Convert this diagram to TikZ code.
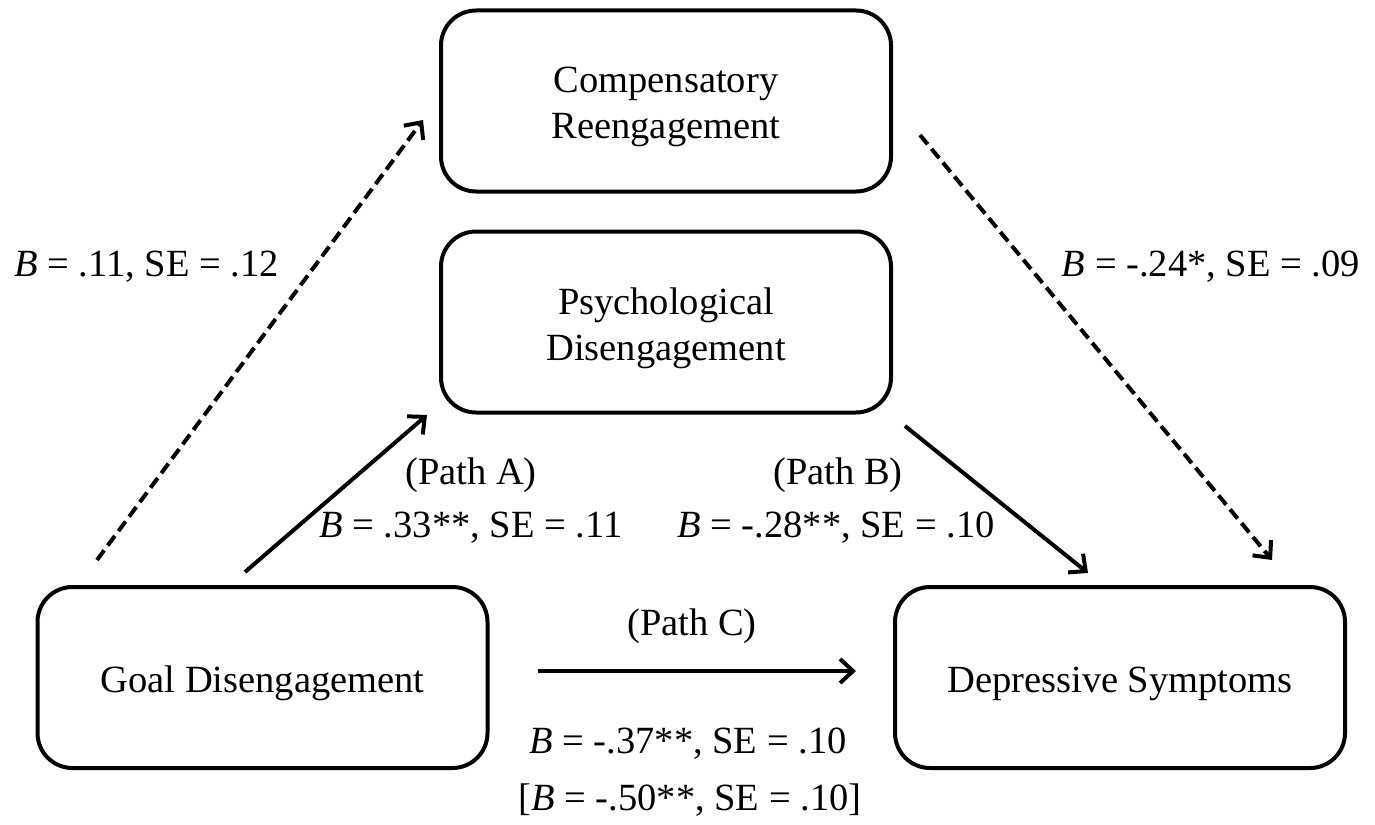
\documentclass[tikz,border=0pt]{standalone}
\usepackage{fontspec}
\setmainfont{Liberation Serif}
\usetikzlibrary{arrows.meta}
\begin{document}
\begin{tikzpicture}[x=1pt,y=-1pt,
  box/.style={draw, line width=4pt, rounded corners=35pt, minimum width=450pt, minimum height=181pt, inner sep=0pt},
  txt/.style={font=\fontsize{38.5}{46}\selectfont, align=center, inner sep=0pt},
  conn/.style={line width=4pt, -{Straight Barb[length=13pt,width=24pt]}},
  dashline/.style={conn, dash pattern=on 12pt off 6pt}
]
\useasboundingbox (0,0) rectangle (1375,824);
% boxes
\node[box] (comp) at (666,101) {};
\node[box] (psych) at (666,322) {};
\node[box] (goal) at (262.5,677.5) {};
\node[box] (dep) at (1120,677.5) {};
% box texts
\node[txt] (comptxt) at (666,107) {Compensatory\\Reengagement};
\node[txt] (psychtxt) at (666,328) {Psychological\\Disengagement};
\node[txt, anchor=base] (goaltxt) at (262.5,692) {Goal Disengagement};
\node[txt, anchor=base] (deptxt) at (1120,692) {Depressive Symptoms};
% connector ends
\coordinate (gcS) at (97,560);
\coordinate (gcE) at (423,120);
\coordinate (gpS) at (245,572);
\coordinate (gpE) at (427,415);
\coordinate (pdS) at (905,426);
\coordinate (pdE) at (1088,573);
\coordinate (cdS) at (920,135);
\coordinate (cdE) at (1272,560);
\coordinate (gdS) at (538,671);
\coordinate (gdE) at (856,671);
% connectors
\draw[dashline] (gcS) -- (gcE);
\draw[conn] (gpS) -- (gpE);
\draw[conn] (pdS) -- (pdE);
\draw[dashline] (cdS) -- (cdE);
\draw[conn] (gdS) -- (gdE);
% labels
\node[txt, anchor=base west] (lgc) at (14,276) {\textit{B} = .11, SE = .12};
\node[txt, anchor=base east] (lcd) at (1360,276) {\textit{B} = -.24*, SE = .09};
\node[txt, anchor=base] (pa) at (471,484) {(Path A)};
\node[txt, anchor=base] (lpa) at (471,537) {\textit{B} = .33**, SE = .11};
\node[txt, anchor=base] (pb) at (838,484) {(Path B)};
\node[txt, anchor=base] (lpb) at (836,537) {\textit{B} = -.28**, SE = .10};
\node[txt, anchor=base] (pc) at (692,635) {(Path C)};
\node[txt, anchor=base] (lpc1) at (688,753) {\textit{B} = -.37**, SE = .10};
\node[txt, anchor=base] (lpc2) at (690,810) {[\textit{B} = -.50**, SE = .10]};
\end{tikzpicture}
\end{document}
